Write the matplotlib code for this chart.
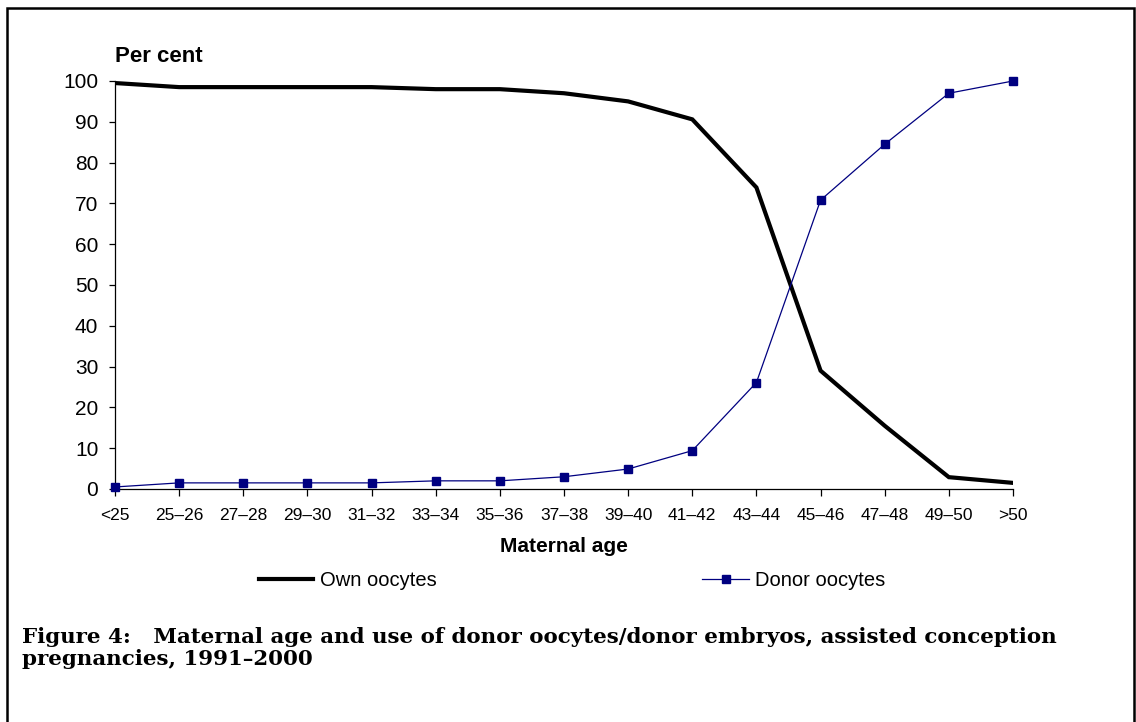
import numpy as np
import matplotlib
matplotlib.use('Agg')
import matplotlib.pyplot as plt
from matplotlib.patches import Rectangle

plt.rcParams['font.family'] = ['Liberation Sans', 'DejaVu Sans']

ages = ['<25', '25–26', '27–28', '29–30', '31–32', '33–34', '35–36', '37–38',
        '39–40', '41–42', '43–44', '45–46', '47–48', '49–50', '>50']
own = [99.5, 98.5, 98.5, 98.5, 98.5, 98.0, 98.0, 97.0, 95.0, 90.6, 73.9, 29.0, 15.5, 2.9, 1.5]
donor = [0.5, 1.5, 1.5, 1.5, 1.5, 2.0, 2.0, 3.0, 4.9, 9.4, 26.1, 70.8, 84.5, 97.0, 100.0]

W, H = 1136, 722
fig = plt.figure(figsize=(W / 100, H / 100), dpi=100)

# border round the figure (bottom edge runs off the page)
fig.patches.append(Rectangle((7 / W, -0.05), (1134 - 7) / W, 1.05 - 8 / H,
                             transform=fig.transFigure, fill=False,
                             edgecolor='black', linewidth=1.8))

ax = fig.add_axes([115 / W, 1 - 489 / H, (1013 - 115) / W, (489 - 81) / H])
x = np.arange(len(ages))
l_own, = ax.plot(x, own, '-', color='black', linewidth=3.0, label='Own oocytes',
                 solid_joinstyle='miter', zorder=3)
l_don, = ax.plot(x, donor, '-s', color='#000080', linewidth=0.9, markersize=5.5,
                 label='Donor oocytes', zorder=4, clip_on=False)

ax.set_xlim(0, len(ages) - 1)
ax.set_ylim(0, 100)
ax.set_yticks(np.arange(0, 101, 10))
ax.set_xticks(x)
ax.set_xticklabels(ages)
for s in ['top', 'right']:
    ax.spines[s].set_visible(False)
for s in ['left', 'bottom']:
    ax.spines[s].set_linewidth(0.9)
ax.tick_params(axis='y', length=4, width=0.9, pad=8, labelsize=15)
ax.tick_params(axis='x', length=5, width=0.9, pad=9, labelsize=12.5)

fig.text(115 / W, 1 - 57 / H, 'Per cent', fontsize=16, fontweight='bold',
         ha='left', va='center')
fig.text(564 / W, 1 - 547 / H, 'Maternal age', fontsize=15, fontweight='bold',
         ha='center', va='center')

# two legend entries placed separately, like the original
leg_kw = dict(loc='center left', bbox_transform=fig.transFigure, frameon=False,
              fontsize=14.5, borderpad=0, borderaxespad=0)
leg1 = ax.legend([l_own], ['Own oocytes'], bbox_to_anchor=(259 / W, 1 - 581 / H),
                 handlelength=2.7, handletextpad=0.35, **leg_kw)
ax.add_artist(leg1)
ax.legend([l_don], ['Donor oocytes'], bbox_to_anchor=(702 / W, 1 - 581 / H),
          handlelength=2.35, handletextpad=0.3, **leg_kw)

cap = dict(fontsize=15.4, fontweight='bold', family='DejaVu Serif',
           ha='left', va='baseline')
fig.text(22 / W, 1 - 643 / H,
         'Figure 4:   Maternal age and use of donor oocytes/donor embryos, assisted conception',
         **cap)
fig.text(22 / W, 1 - 665 / H, 'pregnancies, 1991–2000', **cap)

fig.savefig('out.png', dpi=100)
